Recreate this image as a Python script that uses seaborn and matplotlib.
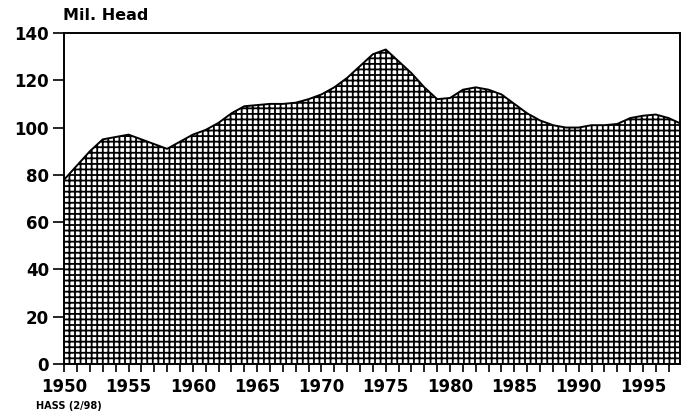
import matplotlib
matplotlib.use("Agg")
import matplotlib.pyplot as plt
import seaborn as sns
import pandas as pd

years = list(range(1950, 1999))
head = [78, 84, 90, 95, 96, 97, 95, 93, 91, 94,
        97, 99, 102, 106, 109, 109.5, 110, 110, 110.5, 112,
        114, 117, 121, 126, 131, 133, 128, 123, 117, 112,
        112.5, 116, 117, 116, 114, 110, 106, 103, 101, 100,
        100, 101, 101, 101.5, 104, 105, 105.5, 104, 101.5]
ytick_vals = [0, 20, 40, 60, 80, 100, 120, 140]
xtick_vals = [1950, 1955, 1960, 1965, 1970, 1975, 1980, 1985, 1990, 1995]

df = pd.DataFrame({"year": years, "head": head})

sns.set_style("white")
plt.rcParams["font.family"] = ["DejaVu Sans"]
plt.rcParams["font.weight"] = "bold"
plt.rcParams["text.color"] = "black"
plt.rcParams["xtick.color"] = "black"
plt.rcParams["ytick.color"] = "black"
plt.rcParams["hatch.linewidth"] = 1.3
plt.rcParams["hatch.color"] = "black"

fig = plt.figure(figsize=(6.83, 4.17), dpi=100)
ax = fig.add_axes([0.094, 0.127, 0.902, 0.794])

ax.fill_between(df["year"], 0, df["head"], facecolor="white",
                edgecolor="black", hatch="+++", linewidth=0)
sns.lineplot(data=df, x="year", y="head", ax=ax, color="black", linewidth=1.4)

ax.set_xlim(1950, 1997.9)
ax.set_ylim(0, 140)
ax.set_yticks(ytick_vals)
ax.set_yticklabels([str(v) for v in ytick_vals], fontsize=12, fontweight="bold", color="black")
ax.set_xticks(xtick_vals)
ax.set_xticklabels([str(v) for v in xtick_vals], fontsize=12, fontweight="bold", color="black")
ax.set_xticks(years[:-1], minor=True)
ax.tick_params(axis="y", which="major", direction="out", length=8, width=1.2, pad=3, left=True)
ax.tick_params(axis="x", which="both", direction="out", length=6, width=1.2, pad=4, bottom=True)
ax.set_xlabel("")
ax.set_ylabel("")
for s in ax.spines.values():
    s.set_visible(True)
    s.set_color("black")
    s.set_linewidth(1.4)

fig.text(0.092, 0.945, "Mil. Head", fontsize=11.5, fontweight="bold", color="black", ha="left", va="bottom")
fig.text(0.052, 0.015, "HASS (2/98)", fontsize=7, fontweight="bold", color="black", ha="left", va="bottom")

fig.savefig("out.png", dpi=100)
